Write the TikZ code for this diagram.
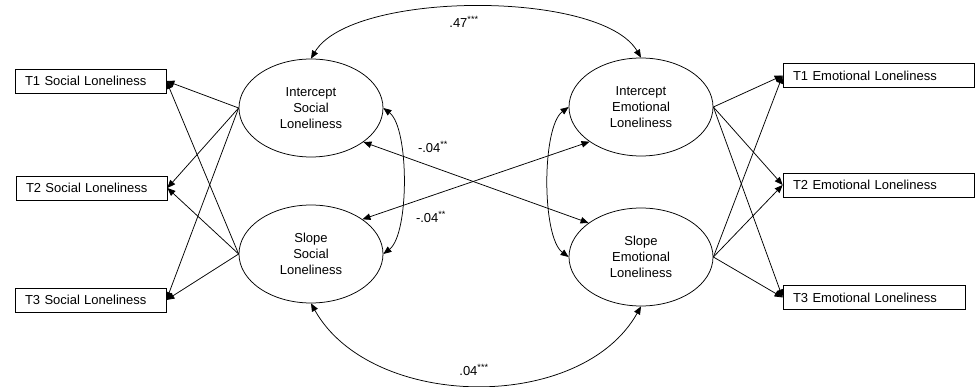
\documentclass[tikz,border=0pt]{standalone}
\usepackage{fontspec}
\setmainfont{Liberation Sans}
\usepackage{tikz}
\usetikzlibrary{shapes,arrows.meta,positioning}

\begin{document}
\begin{tikzpicture}[-,>={Triangle[length=8pt,width=6.5pt]},x=1pt,y=1pt,
        line width=0.75pt,font=\fontsize{13}{16}\selectfont]
        \tikzstyle{latent}=[ellipse,draw=black,align=center,minimum width=144pt,minimum height=98pt,inner sep=0pt]
        \tikzstyle{item}=[rectangle,draw=black,align=left,minimum height=24pt,inner xsep=10pt,inner ysep=0pt]
        \tikzstyle{coef}=[inner sep=1pt]
        \useasboundingbox (0,0) rectangle (975,-387);
        % latent factors
        \node[latent](IS) at (311,-108){Intercept\\Social\\Loneliness};
        \node[latent](SS) at (311,-254){Slope\\Social\\Loneliness};
        \node[latent](IE) at (641,-107){Intercept\\Emotional\\Loneliness};
        \node[latent](SE) at (641,-257){Slope\\Emotional\\Loneliness};
        % indicators
        \node[item,text width=131pt](T1S) at (90.5,-81){T1 Social Loneliness};
        \node[item,text width=131pt](T2S) at (91.5,-188){T2 Social Loneliness};
        \node[item,text width=131pt](T3S) at (90.5,-300){T3 Social Loneliness};
        \node[item,text width=171pt](T1E) at (878.5,-75.5){T1 Emotional Loneliness};
        \node[item,text width=171pt](T2E) at (878.5,-185){T2 Emotional Loneliness};
        \node[item,text width=162pt](T3E) at (874,-297.5){T3 Emotional Loneliness};

        \path (IS.west) edge[->] (T1S.east);
        \path (IS.west) edge[->] (T2S.east);
        \path (IS.west) edge[->] (T3S.east);
        \path (SS.west) edge[->] (T1S.east);
        \path (SS.west) edge[->] (T2S.east);
        \path (SS.west) edge[->] (T3S.east);

        \path (IE.east) edge[->] (T1E.west);
        \path (IE.east) edge[->] (T2E.west);
        \path (IE.east) edge[->] (T3E.west);
        \path (SE.east) edge[->] (T1E.west);
        \path (SE.east) edge[->] (T2E.west);
        \path (SE.east) edge[->] (T3E.west);

        % covariances
        \draw[<->] (IS.north) .. controls +(40,68) and +(-40,68) .. (IE.north);
        \draw[<->] (SS.south) .. controls +(60,-107) and +(-60,-107) .. (SE.south);
        \draw[<->] (IS.east) .. controls +(26,-20) and +(26,20) .. (SS.east);
        \draw[<->] (IE.west) .. controls +(-27,-20) and +(-27,20) .. (SE.west);
        \draw[<->] (IS.-33) -- (SE.147);
        \draw[<->] (SS.34) -- (IE.-146);

        \node[coef](c1) at (464,-22){.47\textsuperscript{***}};
        \node[coef](c2) at (433,-147){-.04\textsuperscript{**}};
        \node[coef](c3) at (431,-217){-.04\textsuperscript{**}};
        \node[coef](c4) at (474,-370){.04\textsuperscript{***}};
      \end{tikzpicture}
\end{document}
